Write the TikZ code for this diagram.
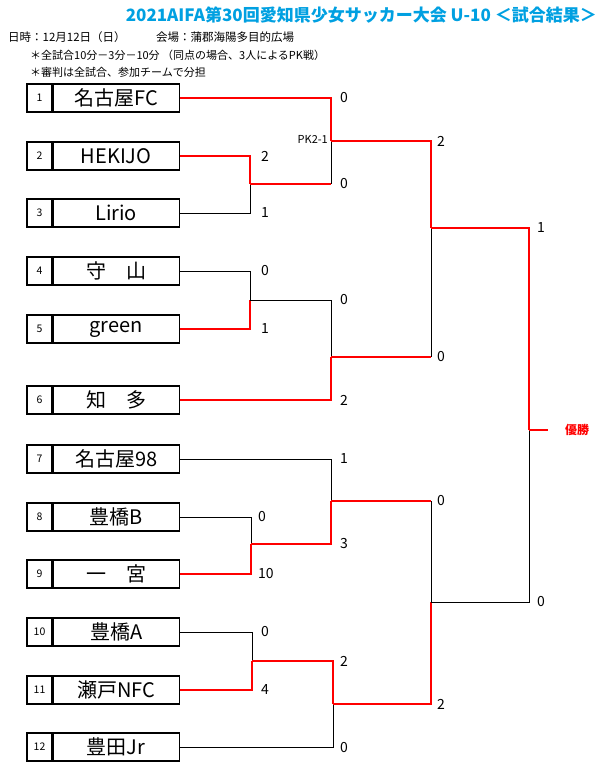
\documentclass[tikz,border=0pt]{standalone}
\usepackage{fontspec}
\setmainfont{Noto Sans CJK JP}
\usetikzlibrary{calc}
\definecolor{titleblue}{RGB}{0,160,225}
\tikzset{
  team/.style={draw,line width=1.2pt,minimum width=126pt,minimum height=28pt,inner sep=0pt,font=\fontsize{20}{20}\selectfont},
  num/.style={draw,line width=1.2pt,minimum width=25pt,minimum height=28pt,inner sep=0pt,font=\fontsize{10.5}{10.5}\selectfont},
  lose/.style={line width=1pt,black},
  win/.style={line width=2pt,red},
  score/.style={anchor=west,font=\fontsize{14}{14}\selectfont,inner sep=0pt}
}
\begin{document}
\begin{tikzpicture}[x=1pt,y=-1pt]
\useasboundingbox (0,0) rectangle (600,765);

% title
\node[anchor=east,text=titleblue,font=\bfseries\fontsize{17}{17}\selectfont,inner sep=0pt] (title) at (597,15) {2021AIFA第30回愛知県少女サッカー大会 U-10 ＜試合結果＞};
\node[anchor=west,font=\fontsize{11.5}{11.5}\selectfont,inner sep=0pt] (date) at (8,37) {日時：12月12日（日）};
\node[anchor=west,font=\fontsize{11.5}{11.5}\selectfont,inner sep=0pt] (place) at (156,37) {会場：蒲郡海陽多目的広場};
\node[anchor=west,font=\fontsize{11}{11}\selectfont,inner sep=0pt] (note1) at (30,55) {＊全試合10分－3分－10分 （同点の場合、3人によるPK戦）};
\node[anchor=west,font=\fontsize{11}{11}\selectfont,inner sep=0pt] (note2) at (30,72) {＊審判は全試合、参加チームで分担};

% teams
\foreach \i/\y/\name in {1/98/名古屋FC,2/156/HEKIJO,3/213/Lirio,4/271/守\quad 山,5/329/green,6/400/知\quad 多,
  7/459/名古屋98,8/517/豊橋B,9/574/一\quad 宮,10/632/豊橋A,11/690/瀬戸NFC,12/747/豊田Jr}{
  \node[num] (n\i) at (39.5,\y) {\i};
  \node[team,anchor=west] (t\i) at (n\i.east) {\name};
}

% joints
\coordinate (a) at (250,184);
\coordinate (b) at (331,141);
\coordinate (c) at (250,300);
\coordinate (d) at (331,357);
\coordinate (e) at (431,228);
\coordinate (f) at (251,544);
\coordinate (g) at (331,501);
\coordinate (h) at (252,661);
\coordinate (k) at (333,704);
\coordinate (m) at (431,602);
\coordinate (w) at (529,430);
\coordinate (champ) at (548,430);

% first round
\draw[win] (t2.east) -| (a);
\draw[lose] (t3.east) -| (a);
\draw[lose] (t4.east) -| (c);
\draw[win] (t5.east) -| (c);
\draw[lose] (t8.east) -| (f);
\draw[win] (t9.east) -| (f);
\draw[lose] (t10.east) -| (h);
\draw[win] (t11.east) -| (h);
% second round
\draw[win] (t1.east) -| (b);
\draw[win] (a) -| (331,184) coordinate (a2);
\draw[lose] (a2) -- (b);
\draw[lose] (c) -| (331,300) coordinate (c2);
\draw[lose] (c2) -- (d);
\draw[win] (t6.east) -| (d);
\draw[lose] (t7.east) -| (g);
\draw[win] (f) -| (g);
\draw[win] (h) -| (k);
\draw[lose] (t12.east) -| (k);
% semi finals
\draw[win] (b) -| (e);
\draw[win] (d) -| (431,357) coordinate (d2);
\draw[lose] (d2) -- (e);
\draw[win] (g) -| (431,501) coordinate (g2);
\draw[lose] (g2) -- (m);
\draw[win] (k) -| (m);
% final
\draw[win] (e) -| (w);
\draw[lose] (m) -| (w);
\draw[win] (w) -- (champ);
\node[anchor=west,text=red,font=\bfseries\fontsize{12}{12}\selectfont,inner sep=0pt] (win) at (565,430) {優勝};

% scores
\foreach \x/\y/\s in {340/98/0,340/184/0,261/156/2,261/213/1,261/271/0,261/329/1,340/300/0,340/400/2,
  437/141/2,437/357/0,537/228/1,537/602/0,340/459/1,340/544/3,258/517/0,258/574/10,437/501/0,437/704/2,
  261/632/0,261/690/4,340/661/2,340/747/0}{
  \node[score] at (\x,\y) {\s};
}
\node[anchor=east,font=\fontsize{11}{11}\selectfont,inner sep=0pt] (pk) at (328,139) {PK2-1};
\end{tikzpicture}
\end{document}
